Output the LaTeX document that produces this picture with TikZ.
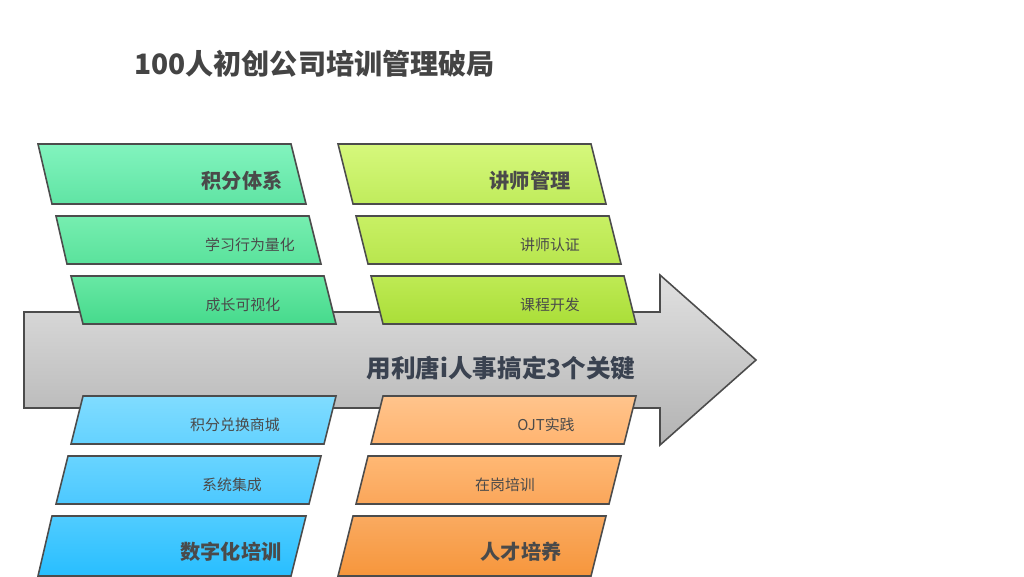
\documentclass[tikz,border=0pt]{standalone}
\usepackage{fontspec}
\setmainfont{Noto Sans CJK SC}
\usetikzlibrary{positioning, shapes.geometric}

\definecolor{titlegray}{HTML}{444444}
\definecolor{keytext}{HTML}{3A4250}
\definecolor{lbltext}{HTML}{4A4A4A}

\tikzset{
  panel/.style={draw=black!70, line width=0.9pt},
  lab/.style={font=\fontsize{8.5}{10}\selectfont, text=lbltext},
  head/.style={font=\bfseries\fontsize{11.5}{13}\selectfont, text=lbltext}
}

\begin{document}
\begin{tikzpicture}[x=0.02cm, y=-0.02cm]
  \useasboundingbox (0,0) rectangle (1024,576);
  \fill[white] (0,0) rectangle (1024,576);

  % title
  \node[anchor=west, font=\bfseries\fontsize{16}{19}\selectfont, text=titlegray] (title) at (128,64) {100人初创公司培训管理破局};

  % big arrow
  \draw[panel, top color=black!12, bottom color=black!30]
    (24,312) -- (660,312) -- (660,275) -- (756,360) -- (660,445) -- (660,408) -- (24,408) -- cycle;
  \node[font=\bfseries\fontsize{14}{16}\selectfont, text=keytext] (key) at (501,368) {用利唐i人事搞定3个关键};

  % top-left group
  \draw[panel, top color={rgb,255:red,130;green,244;blue,190}, bottom color={rgb,255:red,96;green,228;blue,164}]
    (38,144) -- (291,144) -- (306,204) -- (52,204) -- cycle;
  \node[head] (jf) at (242,181) {积分体系};
  \draw[panel, top color={rgb,255:red,118;green,238;blue,176}, bottom color={rgb,255:red,90;green,226;blue,156}]
    (56,216) -- (309,216) -- (321,264) -- (67,264) -- cycle;
  \node[lab] (xx) at (250,245) {学习行为量化};
  \draw[panel, top color={rgb,255:red,104;green,232;blue,164}, bottom color={rgb,255:red,70;green,218;blue,140}]
    (71,276) -- (324,276) -- (336,324) -- (83,324) -- cycle;
  \node[lab] (cz) at (243,305) {成长可视化};

  % top-right group
  \draw[panel, top color={rgb,255:red,214;green,248;blue,124}, bottom color={rgb,255:red,192;green,236;blue,92}]
    (338,144) -- (591,144) -- (606,204) -- (353,204) -- cycle;
  \node[head] (js) at (530,181) {讲师管理};
  \draw[panel, top color={rgb,255:red,200;green,240;blue,100}, bottom color={rgb,255:red,184;green,230;blue,78}]
    (356,216) -- (609,216) -- (621,264) -- (368,264) -- cycle;
  \node[lab] (rz) at (550,245) {讲师认证};
  \draw[panel, top color={rgb,255:red,190;green,234;blue,84}, bottom color={rgb,255:red,170;green,222;blue,56}]
    (371,276) -- (624,276) -- (636,324) -- (383,324) -- cycle;
  \node[lab] (kc) at (550,305) {课程开发};

  % bottom-left group
  \draw[panel, top color={rgb,255:red,128;green,220;blue,255}, bottom color={rgb,255:red,100;green,210;blue,255}]
    (83,396) -- (336,396) -- (324,444) -- (71,444) -- cycle;
  \node[lab] (dh) at (235,425) {积分兑换商城};
  \draw[panel, top color={rgb,255:red,104;green,212;blue,255}, bottom color={rgb,255:red,76;green,200;blue,255}]
    (68,456) -- (321,456) -- (309,504) -- (56,504) -- cycle;
  \node[lab] (xt) at (232,485) {系统集成};
  \draw[panel, top color={rgb,255:red,80;green,204;blue,255}, bottom color={rgb,255:red,40;green,190;blue,255}]
    (52,516) -- (306,516) -- (291,576) -- (38,576) -- cycle;
  \node[head] (sz) at (231,552) {数字化培训};

  % bottom-right group
  \draw[panel, top color={rgb,255:red,255;green,196;blue,140}, bottom color={rgb,255:red,255;green,180;blue,112}]
    (383,396) -- (636,396) -- (624,444) -- (371,444) -- cycle;
  \node[lab] (ojt) at (546,425) {OJT实践};
  \draw[panel, top color={rgb,255:red,255;green,184;blue,116}, bottom color={rgb,255:red,250;green,166;blue,90}]
    (368,456) -- (621,456) -- (609,504) -- (356,504) -- cycle;
  \node[lab] (zg) at (505,485) {在岗培训};
  \draw[panel, top color={rgb,255:red,250;green,170;blue,96}, bottom color={rgb,255:red,246;green,150;blue,60}]
    (353,516) -- (606,516) -- (591,576) -- (338,576) -- cycle;
  \node[head] (rc) at (521,552) {人才培养};
\end{tikzpicture}
\end{document}
